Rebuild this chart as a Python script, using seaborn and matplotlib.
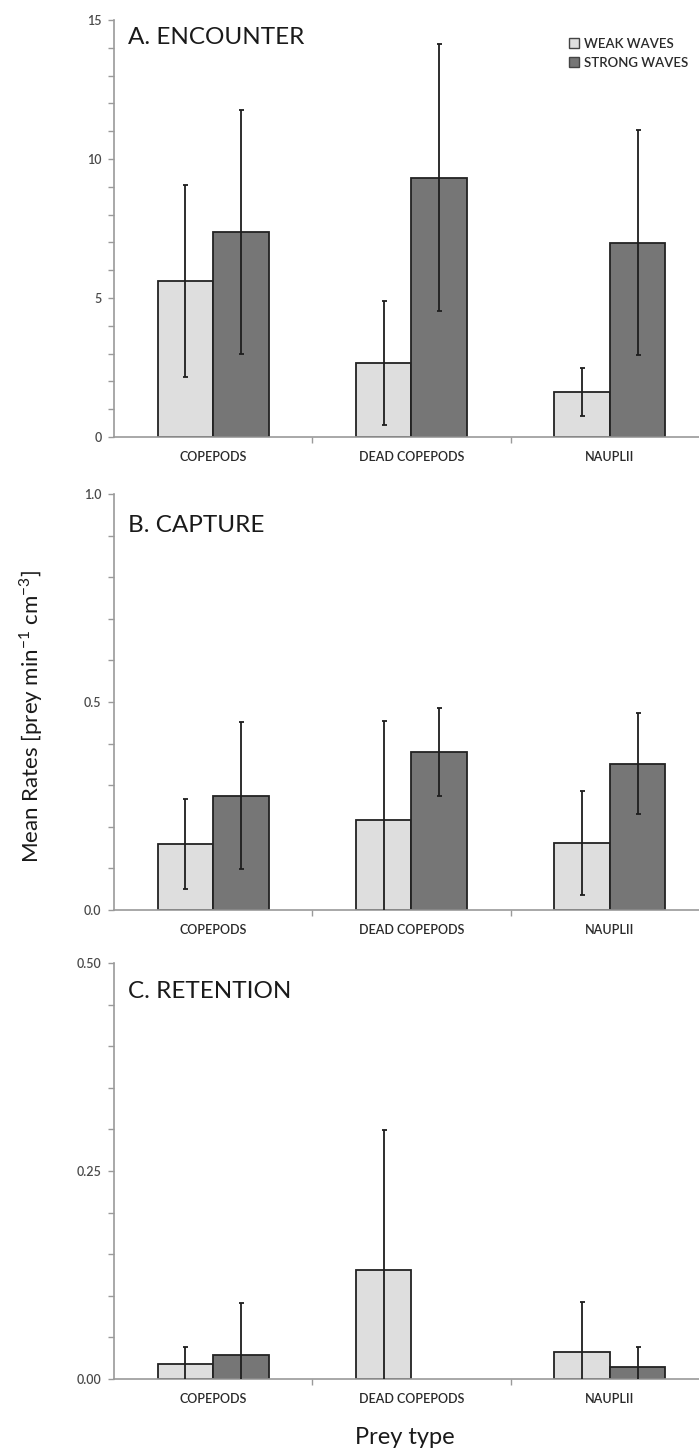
import numpy as np
import pandas as pd
import matplotlib
matplotlib.use("Agg")
import matplotlib.pyplot as plt
from matplotlib.ticker import MultipleLocator, FixedLocator, FormatStrFormatter
from matplotlib.patches import Patch
import seaborn as sns

# ---------------- data ----------------
categories = ["COPEPODS", "DEAD COPEPODS", "NAUPLII"]
waves = ["WEAK WAVES", "STRONG WAVES"]

encounter_weak = [5.60, 2.66, 1.61]
encounter_weak_err = [3.45, 2.23, 0.86]
encounter_strong = [7.37, 9.33, 6.99]
encounter_strong_err = [4.39, 4.80, 4.04]

capture_weak = [0.159, 0.216, 0.160]
capture_weak_err = [0.109, 0.238, 0.125]
capture_strong = [0.275, 0.380, 0.352]
capture_strong_err = [0.177, 0.105, 0.121]

retention_weak = [0.0176, 0.131, 0.033]
retention_weak_err = [0.021, 0.168, 0.059]
retention_strong = [0.029, 0.0, 0.014]
retention_strong_err = [0.062, 0.0, 0.025]

panel_titles = ["A. ENCOUNTER", "B. CAPTURE", "C. RETENTION"]
y_max = [15, 1.0, 0.50]
y_major = [5, 0.5, 0.25]
y_minor = [1, 0.1, 0.05]
y_fmt = ["%d", "%.1f", "%.2f"]

# ---------------- style ----------------
sns.set_theme(style="white")
plt.rcParams["font.family"] = ["Lato", "DejaVu Sans"]
plt.rcParams["mathtext.fontset"] = "custom"
plt.rcParams["mathtext.rm"] = "Lato"

colors = ["#dedede", "#767676"]
edge = "#222222"
axis_col = "#9a9a9a"

W, H = 699, 1452
fig = plt.figure(figsize=(W / 100, H / 100), dpi=100)

def fx(px):
    return px / W

def fy(py):
    return 1 - py / H

panels = [
    (encounter_weak, encounter_weak_err, encounter_strong, encounter_strong_err, 20, 437),
    (capture_weak, capture_weak_err, capture_strong, capture_strong_err, 494, 910),
    (retention_weak, retention_weak_err, retention_strong, retention_strong_err, 963, 1379),
]

left_px = 114
for i, (wv, we, sv, se, top, bot) in enumerate(panels):
    ax = fig.add_axes([fx(left_px), fy(bot), 1 - fx(left_px), (bot - top) / H])
    df = pd.DataFrame({
        "prey": categories * 2,
        "wave": [waves[0]] * 3 + [waves[1]] * 3,
        "value": list(wv) + list(sv),
    })
    errs = [list(we), list(se)]
    sns.barplot(data=df, x="prey", y="value", hue="wave", order=categories,
                hue_order=waves, palette=colors, errorbar=None, width=0.56,
                edgecolor=edge, linewidth=1.3, saturation=1, legend=False, ax=ax)
    for cont, err in zip(ax.containers, errs):
        xs, ys, es = [], [], []
        for bar, e in zip(cont, err):
            h = bar.get_height()
            if h == 0:
                bar.set_linewidth(0)
                continue
            xs.append(bar.get_x() + bar.get_width() / 2)
            ys.append(h)
            es.append(e)
        ax.errorbar(xs, ys, yerr=es, fmt="none", ecolor="#1e1e1e",
                    elinewidth=1.3, capsize=1.8, capthick=1.3, zorder=5)

    ax.set_xlim(-0.5, 2.45)
    ax.set_ylim(0, y_max[i])
    ax.yaxis.set_major_locator(MultipleLocator(y_major[i]))
    ax.yaxis.set_minor_locator(MultipleLocator(y_minor[i]))
    ax.yaxis.set_major_formatter(FormatStrFormatter(y_fmt[i]))
    ax.xaxis.set_minor_locator(FixedLocator([0.5, 1.5, 2.5]))
    ax.set_xlabel("")
    ax.set_ylabel("")
    for s in ["top", "right"]:
        ax.spines[s].set_visible(False)
    for s in ["left", "bottom"]:
        ax.spines[s].set_color(axis_col)
        ax.spines[s].set_linewidth(1.2)
    ax.tick_params(axis="y", which="both", direction="out", length=4,
                   width=1.0, color=axis_col, left=True, pad=5,
                   labelsize=9, labelcolor="#4a4a4a")
    ax.tick_params(axis="x", which="major", length=0, pad=10,
                   labelsize=9, labelcolor="#2a2a2a")
    ax.tick_params(axis="x", which="minor", direction="out", length=4,
                   width=1.0, color=axis_col, bottom=True)
    for lab in ax.get_yticklabels() + ax.get_xticklabels():
        lab.set_fontweight("semibold")
    ax.set_facecolor("white")

    fig.text(fx(128), fy([38, 525, 992][i]), panel_titles[i], fontsize=17.5,
             color="#1a1a1a", ha="left", va="center")

    if i == 0:
        handles = [Patch(facecolor=colors[0], edgecolor="#444444", linewidth=1.0),
                   Patch(facecolor=colors[1], edgecolor="#444444", linewidth=1.0)]
        ax.legend(handles, waves, loc="upper left",
                  bbox_to_anchor=(fx(562), fy(31)), bbox_transform=fig.transFigure,
                  frameon=False, borderpad=0, handlelength=0.8, handleheight=0.8,
                  handletextpad=0.35, labelspacing=0.55,
                  prop={"size": 9.5, "weight": "semibold",
                        "family": ["Lato", "DejaVu Sans"]},
                  labelcolor="#2a2a2a")

fig.text(fx(31), fy(716),
         r"Mean Rates [prey min$^{\mathregular{-1}}$ cm$^{\mathregular{-3}}$]",
         rotation=90, fontsize=16, color="#1a1a1a", ha="center", va="center")
fig.text(fx(405), fy(1437), "Prey type", fontsize=17, color="#1a1a1a",
         ha="center", va="center")

fig.savefig("out.png", dpi=100, facecolor="white")
